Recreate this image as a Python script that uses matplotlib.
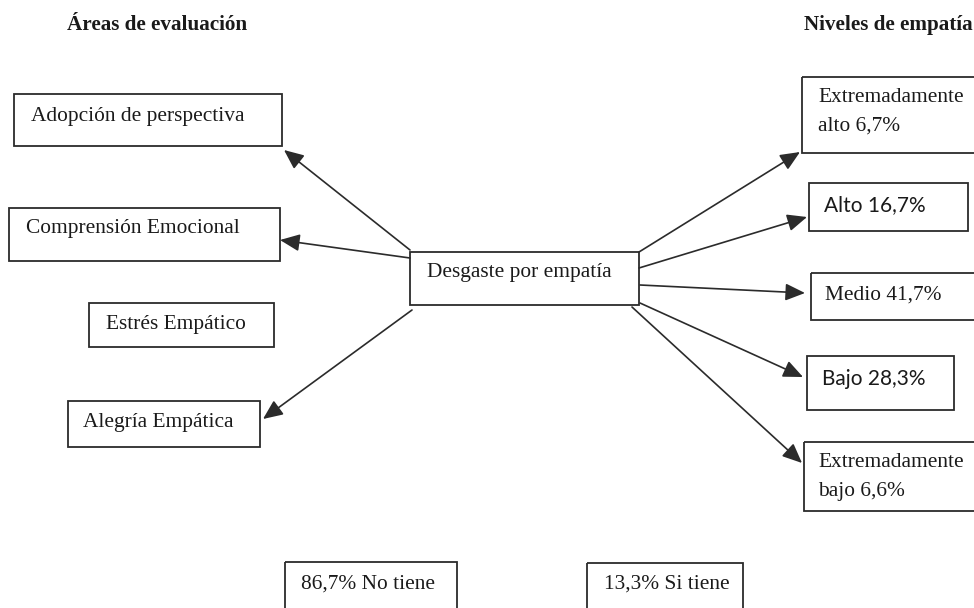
import matplotlib.pyplot as plt
from matplotlib.patches import Rectangle

# textos del esquema
title_left = "Áreas de evaluación"
title_right = "Niveles de empatía"
center_label = "Desgaste por empatía"
area_labels = ["Adopción de perspectiva", "Comprensión Emocional",
               "Estrés Empático", "Alegría Empática"]
nivel_labels = ["Extremadamente\nalto 6,7%", "Alto 16,7%", "Medio 41,7%",
                "Bajo 28,3%", "Extremadamente\nbajo 6,6%"]
presencia_labels = ["86,7% No tiene", "13,3% Si tiene"]

# layout in pixel coords (x0, y0, x1, y1) and text anchor (x, y)
area_boxes = [(14, 94, 282, 146), (9, 208, 280, 261), (89, 303, 274, 347), (68, 401, 260, 447)]
area_text = [(31, 116), (26, 228), (106, 324), (83, 422)]
area_arrows = [((410, 250), (284, 150)), ((410, 258), (280, 240)), None, ((412, 310), (263, 419))]

nivel_boxes = [(802, 77, 990, 153), (809, 183, 968, 231), (811, 273, 990, 320),
               (807, 356, 954, 410), (804, 442, 990, 511)]
nivel_text = [(818, 112), (824, 205), (825, 295), (822, 379), (818, 477)]
nivel_serif = [True, False, True, False, True]
nivel_arrows = [((639, 252), (800, 152)), ((639, 268), (807, 217)), ((640, 285), (805, 293)),
                ((640, 303), (803, 377)), ((632, 307), (802, 463))]

center_box = (410, 252, 639, 305)
presencia_boxes = [(285, 562, 457, 625), (587, 563, 743, 625)]
presencia_text = [(301, 584), (604, 584)]

edge = "#2b2b2b"
ink = "#1a1a1a"
serif = "Liberation Serif"
sans = "Lato"
fs = 15.4

fig = plt.figure(figsize=(9.74, 6.08), dpi=100)
ax = fig.add_axes([0, 0, 1, 1])
ax.set_xlim(0, 974)
ax.set_ylim(608, 0)
ax.axis("off")


def box(b):
    x0, y0, x1, y1 = b
    ax.add_patch(Rectangle((x0, y0), x1 - x0, y1 - y0, fill=False, ec=edge, lw=1.3))


def arrow(a):
    ax.annotate("", xy=a[1], xytext=a[0],
                arrowprops=dict(arrowstyle="-|>,head_length=0.8,head_width=0.35",
                                color=edge, lw=1.2,
                                mutation_scale=15, shrinkA=0, shrinkB=0))


ax.text(157, 25, title_left, family=serif, weight="bold", fontsize=15.2,
        ha="center", va="center", color=ink)
ax.text(804, 25, title_right, family=serif, weight="bold", fontsize=15.2,
        ha="left", va="center", color=ink)

box(center_box)
ax.text(427, 272, center_label, family=serif, fontsize=fs, va="center", color=ink)

for lab, b, t, a in zip(area_labels, area_boxes, area_text, area_arrows):
    box(b)
    ax.text(t[0], t[1], lab, family=serif, fontsize=fs, va="center", color=ink)
    if a is not None:
        arrow(a)

for lab, b, t, s, a in zip(nivel_labels, nivel_boxes, nivel_text, nivel_serif, nivel_arrows):
    box(b)
    ax.text(t[0], t[1], lab, family=serif if s else sans, fontsize=fs if s else 15,
            va="center", color=ink, linespacing=1.65)
    arrow(a)

for lab, b, t in zip(presencia_labels, presencia_boxes, presencia_text):
    box(b)
    ax.text(t[0], t[1], lab, family=serif, fontsize=fs, va="center", color=ink)

fig.savefig("out.png", dpi=100)
